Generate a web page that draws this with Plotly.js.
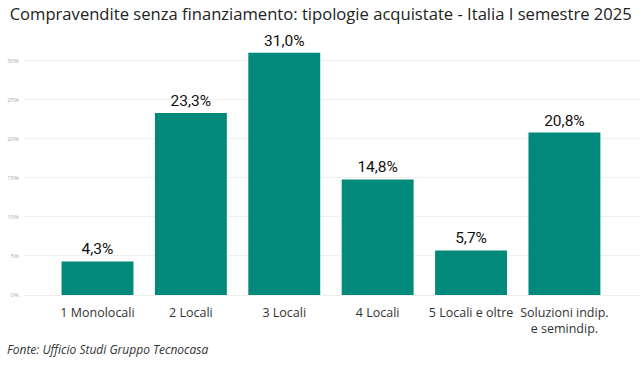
<!DOCTYPE html>
<html>
<head>
<meta charset="utf-8">
<script src="https://cdn.plot.ly/plotly-3.0.1.min.js"></script>
<style>html,body{margin:0;padding:0;background:#fff;}#chart{width:643px;height:367px;}</style>
</head>
<body>
<div id="chart"></div>
<script>
const categories = ["1 Monolocali", "2 Locali", "3 Locali", "4 Locali", "5 Locali e oltre", "Soluzioni indip.<br>e semindip."];
const values = [4.3, 23.3, 31.0, 14.8, 5.7, 20.8];
const yTickVals = [0, 5, 10, 15, 20, 25, 30];
const yTickText = ["0%", "5%", "10%", "15%", "20%", "25%", "30%"];
const labels = values.map(v => v.toFixed(1).replace('.', ',') + '%');

const trace = {
  type: 'bar',
  x: categories,
  y: values,
  width: 0.77,
  marker: {color: '#01897B', line: {width: 0}},
  text: labels,
  textposition: 'outside',
  cliponaxis: false,
  textfont: {family: 'Roboto, sans-serif', size: 15.5, color: '#111'},
  hoverinfo: 'none'
};

const layout = {
  width: 643, height: 367,
  margin: {l: 24, r: 2, t: 45, b: 72},
  paper_bgcolor: '#fff', plot_bgcolor: '#fff',
  showlegend: false,
  title: {
    text: 'Compravendite senza finanziamento: tipologie acquistate - Italia I semestre 2025',
    x: 0.015, xanchor: 'left', y: 0.962, yanchor: 'middle',
    font: {family: '"Open Sans", sans-serif', size: 16.6, color: '#222'}
  },
  xaxis: {
    type: 'category',
    range: [-0.787, 5.82],
    showgrid: false, zeroline: false, showline: false,
    ticks: '', ticklabelstandoff: 8,
    tickfont: {family: '"Open Sans", sans-serif', size: 12.5, color: '#333'}
  },
  yaxis: {
    range: [0, 32],
    tickvals: yTickVals, ticktext: yTickText,
    showgrid: true, gridcolor: '#f0f0f0', gridwidth: 1,
    zeroline: true, zerolinecolor: '#eeeeee', zerolinewidth: 1,
    showline: false, ticks: '', ticklabelstandoff: 4,
    tickfont: {family: '"Open Sans", sans-serif', size: 6, color: '#aaa'}
  },
  annotations: [{
    text: 'Fonte: Ufficio Studi Gruppo Tecnocasa',
    xref: 'paper', yref: 'paper', x: -0.031, y: -0.216,
    xanchor: 'left', yanchor: 'middle', showarrow: false,
    font: {family: '"Open Sans", sans-serif', size: 12, color: '#333', style: 'italic'}
  }]
};

Plotly.newPlot('chart', [trace], layout, {displayModeBar: false, staticPlot: true});
</script>
</body>
</html>
